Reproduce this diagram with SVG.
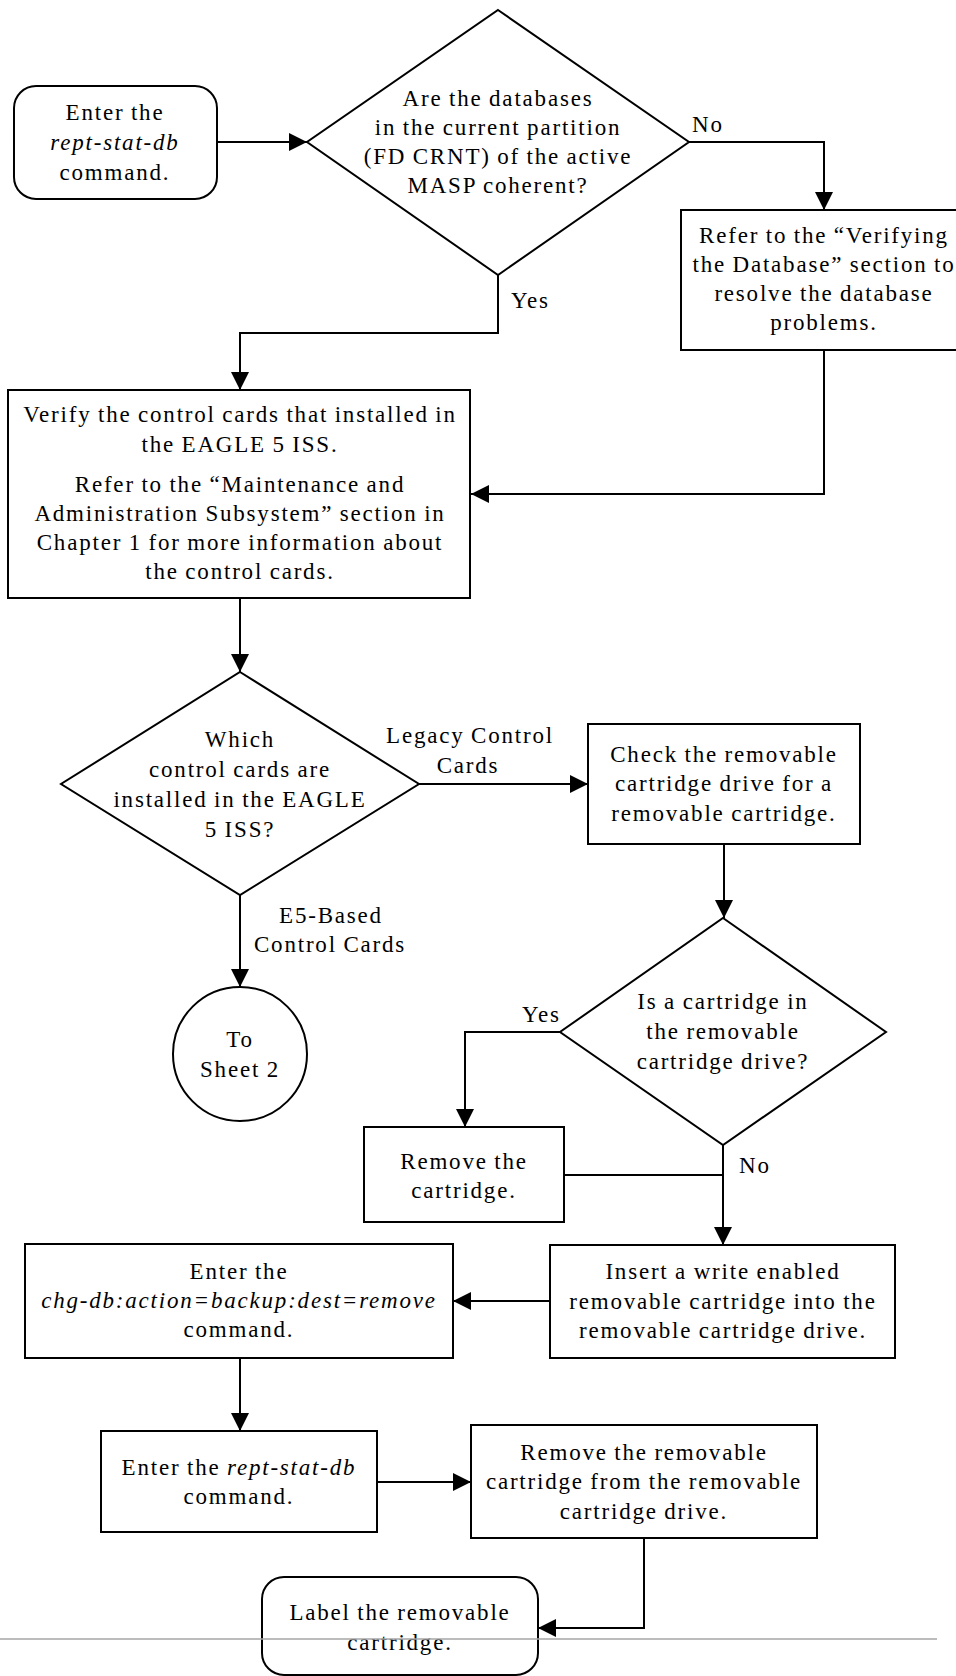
<svg xmlns="http://www.w3.org/2000/svg" width="956" height="1676" viewBox="0 0 956 1676">
  <style>
    .shape { fill: #ffffff; stroke: #000000; stroke-width: 2; }
    .wire { fill: none; stroke: #000000; stroke-width: 2; }
    .txt { font-family: "Liberation Serif", "Times New Roman", serif; font-size: 23px; letter-spacing: 1.8px; word-spacing: -1px; fill: #000000; text-anchor: middle; }
    .lbl { font-family: "Liberation Serif", "Times New Roman", serif; font-size: 23px; letter-spacing: 1.8px; fill: #000000; }
    .it { font-style: italic; }
  </style>
  <defs>
    <marker id="arrow" markerUnits="userSpaceOnUse" markerWidth="18" markerHeight="18" refX="18" refY="9" orient="auto">
      <path d="M0,0 L18,9 L0,18 Z" fill="#000000"/>
    </marker>
  </defs>
  <rect width="956" height="1676" fill="#ffffff"/>

  <!-- connectors -->
  <g id="connectors">
    <path class="wire" d="M217,142 H307" marker-end="url(#arrow)"/>
    <path class="wire" d="M689,142 H824 V210" marker-end="url(#arrow)"/>
    <path class="wire" d="M824,350 V494 H471" marker-end="url(#arrow)"/>
    <path class="wire" d="M498,275 V333 H240 V390" marker-end="url(#arrow)"/>
    <path class="wire" d="M240,598 V672" marker-end="url(#arrow)"/>
    <path class="wire" d="M419,784 H588" marker-end="url(#arrow)"/>
    <path class="wire" d="M724,844 V918" marker-end="url(#arrow)"/>
    <path class="wire" d="M240,895 V987" marker-end="url(#arrow)"/>
    <path class="wire" d="M560,1032 H465 V1127" marker-end="url(#arrow)"/>
    <path class="wire" d="M723,1145 V1245" marker-end="url(#arrow)"/>
    <path class="wire" d="M564,1175 H723"/>
    <path class="wire" d="M550,1301 H453" marker-end="url(#arrow)"/>
    <path class="wire" d="M240,1358 V1431" marker-end="url(#arrow)"/>
    <path class="wire" d="M377,1482 H471" marker-end="url(#arrow)"/>
    <path class="wire" d="M644,1538 V1628 H538" marker-end="url(#arrow)"/>
    <text class="lbl" x="692" y="132">No</text>
    <text class="lbl" x="511" y="308">Yes</text>
    <text class="txt" x="470" y="743">Legacy Control</text>
    <text class="txt" x="468" y="773">Cards</text>
    <text class="txt" x="331" y="923">E5-Based</text>
    <text class="txt" x="330" y="952">Control Cards</text>
    <text class="lbl" x="522" y="1022">Yes</text>
    <text class="lbl" x="739" y="1173">No</text>
  </g>

  <g id="start">
    <rect class="shape" x="14" y="86" width="203" height="113" rx="22" ry="22"/>
    <text class="txt" x="115" y="120">Enter the</text>
    <text class="txt it" x="115" y="150">rept-stat-db</text>
    <text class="txt" x="115" y="180">command.</text>
  </g>

  <g id="db-coherent">
    <polygon class="shape" points="498,10 689,142 498,275 307,142"/>
    <text class="txt" x="498" y="106">Are the databases</text>
    <text class="txt" x="498" y="135">in the current partition</text>
    <text class="txt" x="498" y="164">(FD CRNT) of the active</text>
    <text class="txt" x="498" y="193">MASP coherent?</text>
  </g>

  <g id="verify-db">
    <rect class="shape" x="681" y="210" width="300" height="140"/>
    <text class="txt" x="824" y="243">Refer to the “Verifying</text>
    <text class="txt" x="824" y="272">the Database” section to</text>
    <text class="txt" x="824" y="301">resolve the database</text>
    <text class="txt" x="824" y="330">problems.</text>
  </g>

  <g id="verify-cards">
    <rect class="shape" x="8" y="390" width="462" height="208"/>
    <text class="txt" x="240" y="422">Verify the control cards that installed in</text>
    <text class="txt" x="240" y="452">the EAGLE 5 ISS.</text>
    <text class="txt" x="240" y="492">Refer to the “Maintenance and</text>
    <text class="txt" x="240" y="521">Administration Subsystem” section in</text>
    <text class="txt" x="240" y="550">Chapter 1 for more information about</text>
    <text class="txt" x="240" y="579">the control cards.</text>
  </g>

  <g id="which-cards">
    <polygon class="shape" points="240,672 419,784 240,895 61,784"/>
    <text class="txt" x="240" y="747">Which</text>
    <text class="txt" x="240" y="777">control cards are</text>
    <text class="txt" x="240" y="807">installed in the EAGLE</text>
    <text class="txt" x="240" y="837">5 ISS?</text>
  </g>

  <g id="to-sheet-2">
    <circle class="shape" cx="240" cy="1054" r="67"/>
    <text class="txt" x="240" y="1047">To</text>
    <text class="txt" x="240" y="1077">Sheet 2</text>
  </g>

  <g id="check-drive">
    <rect class="shape" x="588" y="724" width="272" height="120"/>
    <text class="txt" x="724" y="762">Check the removable</text>
    <text class="txt" x="724" y="791">cartridge drive for a</text>
    <text class="txt" x="724" y="821">removable cartridge.</text>
  </g>

  <g id="cartridge-present">
    <polygon class="shape" points="723,918 886,1032 723,1145 560,1032"/>
    <text class="txt" x="723" y="1009">Is a cartridge in</text>
    <text class="txt" x="723" y="1039">the removable</text>
    <text class="txt" x="723" y="1069">cartridge drive?</text>
  </g>

  <g id="remove-cartridge">
    <rect class="shape" x="364" y="1127" width="200" height="95"/>
    <text class="txt" x="464" y="1169">Remove the</text>
    <text class="txt" x="464" y="1198">cartridge.</text>
  </g>

  <g id="insert-cartridge">
    <rect class="shape" x="550" y="1245" width="345" height="113"/>
    <text class="txt" x="723" y="1279">Insert a write enabled</text>
    <text class="txt" x="723" y="1309">removable cartridge into the</text>
    <text class="txt" x="723" y="1338">removable cartridge drive.</text>
  </g>

  <g id="backup">
    <rect class="shape" x="25" y="1244" width="428" height="114"/>
    <text class="txt" x="239" y="1279">Enter the</text>
    <text class="txt it" x="239" y="1308">chg-db:action=backup:dest=remove</text>
    <text class="txt" x="239" y="1337">command.</text>
  </g>

  <g id="rept-stat-db">
    <rect class="shape" x="101" y="1431" width="276" height="101"/>
    <text class="txt" x="239" y="1475">Enter the <tspan class="it">rept-stat-db</tspan></text>
    <text class="txt" x="239" y="1504">command.</text>
  </g>

  <g id="remove-removable">
    <rect class="shape" x="471" y="1425" width="346" height="113"/>
    <text class="txt" x="644" y="1460">Remove the removable</text>
    <text class="txt" x="644" y="1489">cartridge from the removable</text>
    <text class="txt" x="644" y="1519">cartridge drive.</text>
  </g>

  <g id="label-cartridge">
    <rect class="shape" x="262" y="1577" width="276" height="98" rx="22" ry="22"/>
    <text class="txt" x="400" y="1620">Label the removable</text>
    <text class="txt" x="400" y="1650">cartridge.</text>
  </g>

  <!-- page rule across the foot -->
  <line x1="0" y1="1639" x2="937" y2="1639" stroke="#a6a6a6" stroke-width="1.5"/>
</svg>
